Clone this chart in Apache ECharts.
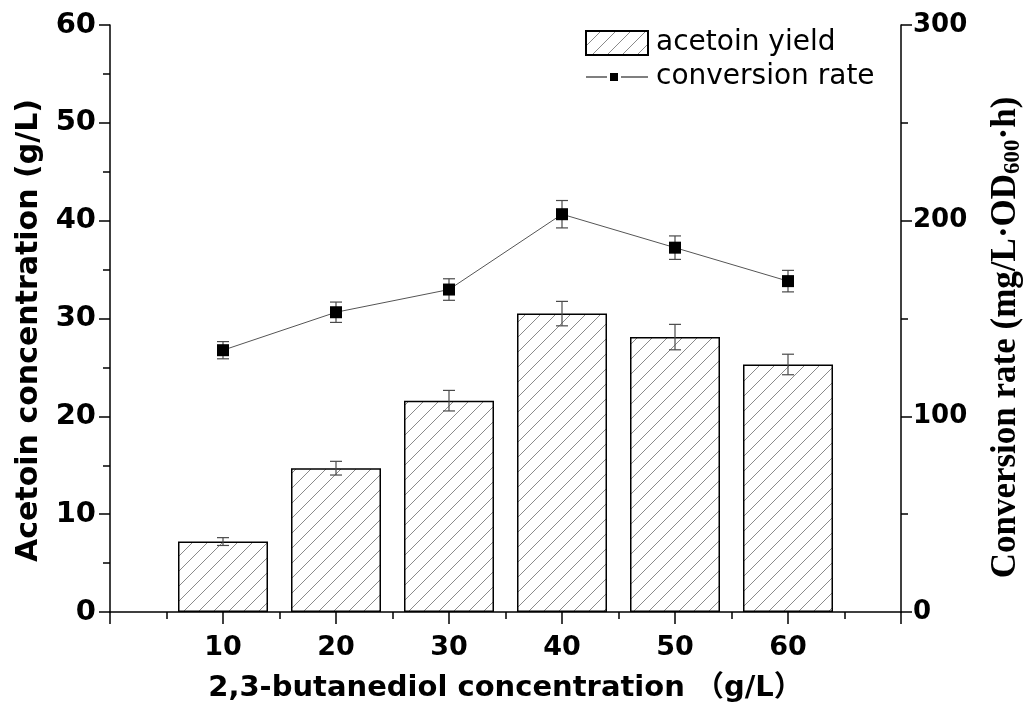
<!DOCTYPE html>
<html>
<head>
<meta charset="utf-8">
<script src="https://cdn.jsdelivr.net/npm/echarts@6/dist/echarts.min.js"></script>
<style>
  html, body { margin: 0; padding: 0; background: #fff; }
  #chart { width: 1034px; height: 708px; }
</style>
</head>
<body>
<div id="chart"></div>
<script>
// data
var concentrations = [10, 20, 30, 40, 50, 60];
var acetoinYield = [7.2, 14.7, 21.6, 30.5, 28.1, 25.3];
var yieldErr = [0.4, 0.7, 1.05, 1.25, 1.3, 1.05];
var conversionRate = [133.8, 153.2, 164.8, 203.3, 186.2, 169.1];
var rateErr = [4.4, 5.2, 5.5, 7.0, 6.0, 5.5];

(function() {
    var myChart = echarts.init(document.getElementById("chart"));

    // diagonal hatch for the bars
    var tile = document.createElement("canvas");
    tile.width = 15;
    tile.height = 15;
    var ctx = tile.getContext("2d");
    ctx.strokeStyle = "#8a8a8a";
    ctx.lineWidth = 1;
    ctx.beginPath();
    ctx.moveTo(-1, 16); ctx.lineTo(16, -1);
    ctx.moveTo(-1, 1); ctx.lineTo(1, -1);
    ctx.moveTo(14, 16); ctx.lineTo(16, 14);
    ctx.stroke();
    var hatch = { image: tile, repeat: "repeat" };

    var sans = "'DejaVu Sans', 'Noto Sans CJK SC', sans-serif";
    var serif = "'Liberation Serif', 'Times New Roman', serif";

    function errorBar(cap) {
        return function(params, api) {
            var x = api.value(0);
            var top = api.coord([x, api.value(2)]);
            var bot = api.coord([x, api.value(1)]);
            var st = { stroke: "#4a4a4a", lineWidth: 1.2 };
            return {
                type: "group",
                children: [
                    { type: "line", shape: { x1: top[0], y1: top[1], x2: bot[0], y2: bot[1] }, style: st },
                    { type: "line", shape: { x1: top[0] - cap, y1: top[1], x2: top[0] + cap, y2: top[1] }, style: st },
                    { type: "line", shape: { x1: bot[0] - cap, y1: bot[1], x2: bot[0] + cap, y2: bot[1] }, style: st }
                ]
            };
        };
    }

    var barData = concentrations.map(function(c, i) { return [c, acetoinYield[i]]; });
    var lineData = concentrations.map(function(c, i) { return [c, conversionRate[i]]; });
    var barErrData = concentrations.map(function(c, i) { return [c, acetoinYield[i] - yieldErr[i], acetoinYield[i] + yieldErr[i]]; });
    var lineErrData = concentrations.map(function(c, i) { return [c, conversionRate[i] - rateErr[i], conversionRate[i] + rateErr[i]]; });

    var axisLine = { show: true, onZero: false, lineStyle: { color: "#000", width: 1.5 } };

    var option = {
        animation: false,
        grid: { left: 110, right: 133, top: 25, bottom: 96, containLabel: false, outerBoundsMode: "none" },
        legend: {
            orient: "vertical",
            left: 585,
            top: 29,
            padding: 0,
            itemWidth: 62,
            itemHeight: 24,
            itemGap: 6,
            textStyle: { fontFamily: sans, fontSize: 28, color: "#000", lineHeight: 24, padding: [0, 0, 0, 3] },
            data: [
                { name: "acetoin yield", icon: "rect" },
                { name: "conversion rate", icon: "path://M0,11.5H21V12.6H0Z M24,8H32V16H24Z M35,11.5H62V12.6H35Z", itemStyle: { color: "#000" } }
            ]
        },
        xAxis: {
            type: "value",
            min: 0,
            max: 70,
            interval: 10,
            name: "2,3-butanediol concentration （g/L）",
            nameLocation: "middle",
            nameGap: 62,
            nameTextStyle: { fontFamily: sans, fontSize: 29, fontWeight: "bold", color: "#000" },
            axisLine: axisLine,
            axisTick: { show: true, inside: false, length: 12, lineStyle: { color: "#000", width: 1.5 } },
            minorTick: { show: true, splitNumber: 2, length: 7, lineStyle: { color: "#000", width: 1.5 } },
            splitLine: { show: false },
            axisLabel: {
                margin: 22,
                fontFamily: sans, fontSize: 27, fontWeight: "bold", color: "#000",
                formatter: function(v) { return (v === 0 || v === 70) ? "" : v; }
            }
        },
        yAxis: [
            {
                type: "value",
                min: 0,
                max: 60,
                interval: 10,
                position: "left",
                name: "Acetoin concentration (g/L)",
                nameLocation: "middle",
                nameRotate: 90,
                nameGap: 66,
                nameTextStyle: { fontFamily: sans, fontSize: 30, fontWeight: "bold", color: "#000", padding: [0, 24, 0, 0] },
                axisLine: axisLine,
                axisTick: { show: true, inside: false, length: 11, lineStyle: { color: "#000", width: 1.5 } },
                minorTick: { show: true, splitNumber: 2, length: 7, lineStyle: { color: "#000", width: 1.5 } },
                splitLine: { show: false },
                axisLabel: { margin: 14, fontFamily: sans, fontSize: 29, fontWeight: "bold", color: "#000" }
            },
            {
                type: "value",
                min: 0,
                max: 300,
                interval: 100,
                position: "right",
                name: "Conversion rate (mg/L·OD{sub|600}·h)",
                nameLocation: "middle",
                nameRotate: 90,
                nameGap: 86,
                nameTextStyle: {
                    fontFamily: serif, fontSize: 35, fontWeight: "bold", color: "#000", lineHeight: 38,
                    padding: [0, 38, 0, 0],
                    rich: {
                        sub: { fontFamily: serif, fontSize: 23, fontWeight: "bold", color: "#000", verticalAlign: "bottom", lineHeight: 38, padding: [14, 0, 0, 0] }
                    }
                },
                axisLine: axisLine,
                axisTick: { show: true, inside: false, length: 11, lineStyle: { color: "#000", width: 1.5 } },
                minorTick: { show: true, splitNumber: 2, length: 7, lineStyle: { color: "#000", width: 1.5 } },
                splitLine: { show: false },
                axisLabel: { margin: 12, fontFamily: sans, fontSize: 26, fontWeight: "bold", color: "#000" }
            }
        ],
        series: [
            {
                name: "acetoin yield",
                type: "bar",
                yAxisIndex: 0,
                barWidth: 90,
                itemStyle: { color: hatch, borderColor: "#000", borderWidth: 1.5 },
                data: barData,
                z: 2
            },
            {
                name: "yield error",
                type: "custom",
                yAxisIndex: 0,
                renderItem: errorBar(6),
                data: barErrData,
                z: 3
            },
            {
                name: "conversion rate",
                type: "line",
                yAxisIndex: 1,
                symbol: "rect",
                symbolSize: 12,
                itemStyle: { color: "#000" },
                lineStyle: { color: "#555", width: 1 },
                data: lineData,
                z: 5
            },
            {
                name: "rate error",
                type: "custom",
                yAxisIndex: 1,
                renderItem: errorBar(6),
                data: lineErrData,
                z: 4
            }
        ]
    };

    myChart.setOption(option);
    window.addEventListener("resize", function() {
        myChart.resize();
    });
})();
</script>
</body>
</html>
